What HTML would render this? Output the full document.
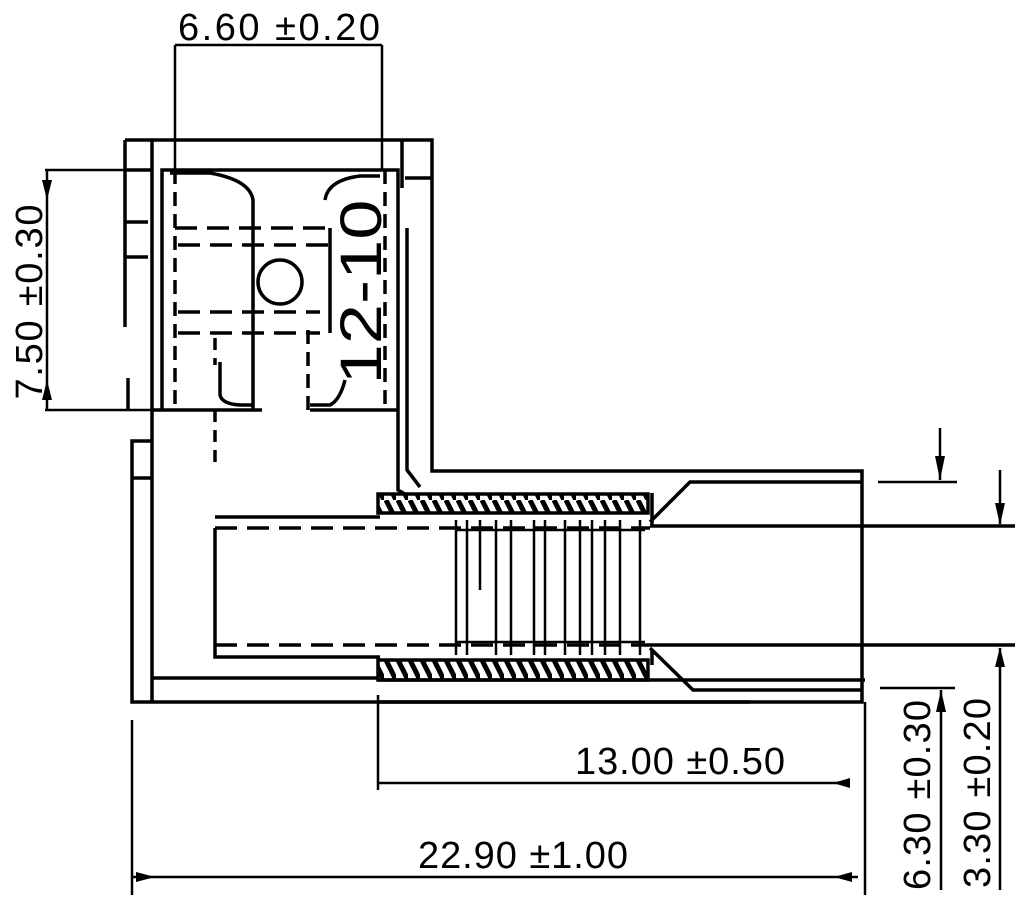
<!DOCTYPE html>
<html><head><style>html,body{margin:0;padding:0;background:#fff}svg{display:block}</style></head><body>
<svg width="1023" height="906" viewBox="0 0 1023 906" xmlns="http://www.w3.org/2000/svg">
<defs>
<pattern id="h" width="12" height="20" patternUnits="userSpaceOnUse"><rect width="12" height="20" fill="#fff"/><path d="M2 0 L12 20" stroke="#000" stroke-width="5"/></pattern>
</defs>
<g fill="none" stroke="#000" stroke-width="3.5">
<path d="M125 140 H432 V471 H862 V702 H132 V441 H152"/>
<path d="M125 140 V327 M128 378 V410"/>
<path d="M152 140 V702"/>
<path d="M132 478 H152"/>
<path d="M125 170 H152 M125 222 H148 M125 257 H148"/>
<path d="M402 140 V188 M405 178 H432"/>
<path d="M162 410 V170 H398 V490 L410 497"/>
<path d="M407 228 V470 L420 487"/>
<path d="M152 410 H262 M310 410 H398"/>
<path d="M175 170 V410 M385 170 V410" stroke-dasharray="14 8"/>
<path d="M175 228 H330 M178 245 H330 M178 312 H320 M178 333 H320" stroke-dasharray="22 10"/>
<path d="M253 228 V410 M330 228 V333"/>
<path d="M308 330 V410" stroke-dasharray="14 8"/>
<path d="M170 173 H210 Q250 180 253 200 V228 M325 200 Q328 180 360 176 H380"/>
<path d="M220 362 V395 Q222 404 240 405 H253 M310 405 H330 Q340 400 345 380"/>
<path d="M215 338 V365 M215 410 V470" stroke-dasharray="12 8"/>
<circle cx="280" cy="282" r="22"/>
<path d="M215 517 H380 M215 528 V657 H380 M152 678 H380"/>
<path d="M215 528 H650 M215 645 H650" stroke-dasharray="22 10"/>
<rect x="378" y="494" width="270" height="19" fill="url(#h)"/>
<rect x="378" y="660" width="270" height="20" fill="url(#h)"/>
<path d="M378 680 H865 M378 702 H750"/>
<path d="M652 493 V525 M652 650 V665"/>
<path d="M650 526 H1015 M650 645 H1015"/>
<path d="M650 522 L690 482 H862 M650 648 L693 690 H862"/>
<g stroke-width="2.5">
<path d="M456 520 V655 M467 520 V655 M480 520 V590 M496 520 V655 M511 520 V655 M534 520 V655 M545 520 V655 M565 520 V655 M580 520 V655 M592 520 V655 M605 520 V655 M620 520 V655 M640 520 V655"/>
<path d="M456 530 H645 M456 642 H645"/>
</g>
<g stroke-width="2.5">
<path d="M175 45 V170 M382 45 V170 M175 45 H382"/>
<path d="M45 170 H152 M45 410 H152 M47 170 V410"/>
<path d="M378 695 V790 M378 783 H850"/>
<path d="M132 720 V895 M865 702 V895 M132 877 H858"/>
<path d="M878 482 H957 M940 428 V480"/>
<path d="M1000 470 V524 M1000 648 V890"/>
<path d="M880 688 H955 M941 690 V890"/>
</g>
</g>
<g fill="#000">
<path d="M42 180 L47 200 L52 180 Z M42 400 L47 380 L52 400 Z"/>
<path d="M850 778 L833 783 L850 788 Z M136 872 L155 877 L136 882 Z M852 872 L834 877 L852 882 Z"/>
<path d="M935 456 L940 480 L945 456 Z M995 503 L1000 525 L1005 503 Z M995 667 L1000 647 L1005 667 Z M936 712 L941 690 L946 712 Z"/>
</g>
<g font-family="Liberation Sans, sans-serif" fill="#000" font-size="38">
<text x="279" y="40" text-anchor="middle" textLength="202">6.60 ±0.20</text>
<text x="680" y="774" text-anchor="middle" textLength="210">13.00 ±0.50</text>
<text x="523" y="868" text-anchor="middle" textLength="210">22.90 ±1.00</text>
<text transform="translate(42,302) rotate(-90)" text-anchor="middle" textLength="195">7.50 ±0.30</text>
<text transform="translate(930,795) rotate(-90)" text-anchor="middle" textLength="190">6.30 ±0.30</text>
<text transform="translate(990,793) rotate(-90)" text-anchor="middle" textLength="190">3.30 ±0.20</text>
<text transform="translate(381,292) rotate(-90)" text-anchor="middle" font-size="58" textLength="185" lengthAdjust="spacingAndGlyphs">12-10</text>
</g>
</svg>
</body></html>
